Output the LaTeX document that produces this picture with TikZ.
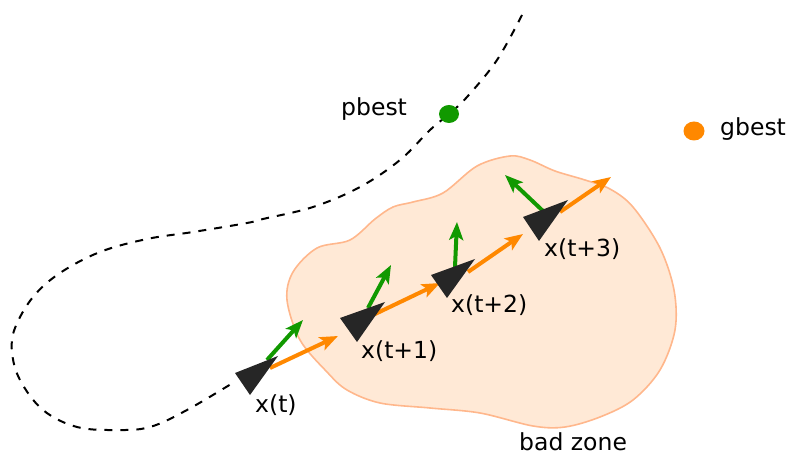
\documentclass[tikz,border=0pt]{standalone}
\usepackage{fontspec}
\setmainfont{DejaVu Sans}
\usetikzlibrary{arrows.meta}
\definecolor{pgreen}{RGB}{17,153,0}
\definecolor{porange}{RGB}{255,136,0}
\definecolor{zonefill}{RGB}{255,233,214}
\definecolor{zonedraw}{RGB}{255,183,140}
\definecolor{agent}{RGB}{38,38,38}
\tikzset{
  lbl/.style={anchor=base west, inner sep=0pt, font=\fontsize{23.5}{28}\selectfont},
  vel/.style={line width=4pt, arrows={-Stealth[length=18pt,width=14pt,inset=4pt]}},
  gvel/.style={vel, draw=pgreen},
  ovel/.style={vel, draw=porange},
  agentshape/.style={fill=agent, draw=none},
  trail/.style={black, line width=2pt, dash pattern=on 8pt off 8pt},
}
\begin{document}
\begin{tikzpicture}[x=1pt,y=-1pt]
\useasboundingbox (0,0) rectangle (790,454);
% bad zone
\fill[zonefill, draw=zonedraw, line width=1.6pt] plot[smooth cycle, tension=0.55] coordinates {
 (510,156) (477,166) (443,193) (413,202) (393,207) (375,219) (350,240) (317,248)
 (293,272) (287,300) (300,340) (327,372) (347,390) (380,403) (430,408) (480,413)
 (533,426) (565,427) (600,417) (633,400) (660,370) (675,330) (674,290) (660,248)
 (633,207) (610,189) (585,180) (555,171) (530,160)};
% trajectory
\draw[trail] plot[smooth, tension=0.6] coordinates {
 (522,15) (497,60) (467,97) (449,114) (430,130) (400,160) (360,187) (313,207) (263,219)
 (247,223) (193,232) (147,239) (100,252) (60,273) (33,297) (15,328) (12,352) (20,380)
 (43,410) (77,427) (117,430) (150,427) (187,410) (236,381)};
% dots
\fill[pgreen] (449,114) ellipse[x radius=10pt, y radius=9pt];
\node[lbl] (pbest) at (341,116) {pbest};
\fill[porange] (694,131) ellipse[x radius=10.5pt, y radius=9.5pt];
\node[lbl] (gbest) at (720,136) {gbest};
% coordinates
\coordinate (g0s) at (267,360); \coordinate (g0e) at (303,320);
\coordinate (o0s) at (270,368); \coordinate (o0e) at (338,336);
\coordinate (g1s) at (368,308); \coordinate (g1e) at (391,265);
\coordinate (o1s) at (373,315); \coordinate (o1e) at (440,283);
\coordinate (g2s) at (455,267); \coordinate (g2e) at (457,222);
\coordinate (o2s) at (468,272); \coordinate (o2e) at (523,234);
\coordinate (g3s) at (543,211); \coordinate (g3e) at (505,175);
\coordinate (o3s) at (560,212); \coordinate (o3e) at (611,177);
% velocity arrows
\draw[gvel] (g0s) -- (g0e);
\draw[ovel] (o0s) -- (o0e);
\draw[gvel] (g1s) -- (g1e);
\draw[ovel] (o1s) -- (o1e);
\draw[gvel] (g2s) -- (g2e);
\draw[ovel] (o2s) -- (o2e);
\draw[gvel] (g3s) -- (g3e);
\draw[ovel] (o3s) -- (o3e);
% agents
\fill[agentshape] (235,373) -- (278,356) -- (250,395) -- cycle;
\fill[agentshape] (340,318) -- (385,302) -- (357,342) -- cycle;
\fill[agentshape] (431,275) -- (475,259) -- (447,298) -- cycle;
\fill[agentshape] (523,217) -- (568,200) -- (539,241) -- cycle;
% labels
\node[lbl] (x0) at (255,412) {x(t)};
\node[lbl] (x1) at (361,359) {x(t+1)};
\node[lbl] (x2) at (451,313) {x(t+2)};
\node[lbl] (x3) at (544,257) {x(t+3)};
\node[lbl] (bz) at (519,450) {bad zone};
\end{tikzpicture}
\end{document}
